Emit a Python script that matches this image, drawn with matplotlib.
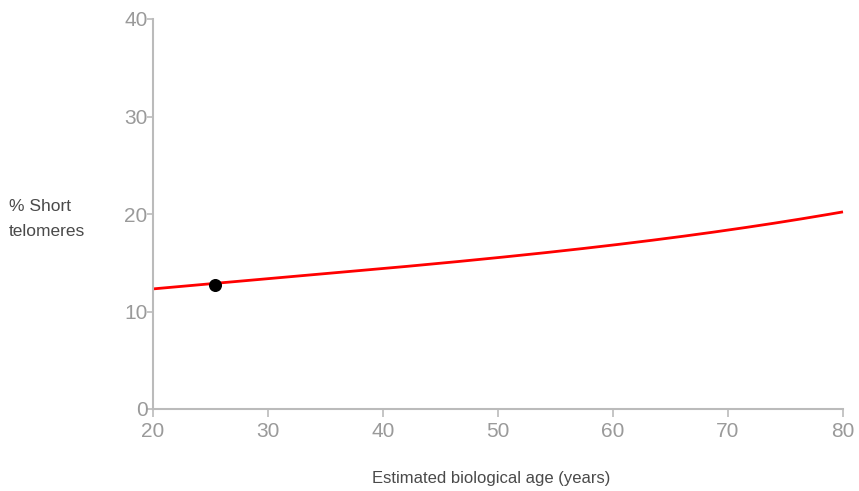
import matplotlib
matplotlib.use("Agg")
import matplotlib.pyplot as plt
import numpy as np

plt.rcParams['font.family'] = ['Liberation Sans', 'DejaVu Sans']

age = [20, 30, 40, 50, 60, 70, 80]
short_pct = [12.3, 13.4, 14.4, 15.5, 16.8, 18.4, 20.2]
point_age = [25.4]
point_pct = [12.7]

xticks = [20, 30, 40, 50, 60, 70, 80]
yticks = [0, 10, 20, 30, 40]

fig = plt.figure(figsize=(8.59, 4.91), dpi=100)
ax = fig.add_axes([153/859, 1-409/491, (843-153)/859, (409-19)/491])

# smooth line through read values
xs = np.linspace(20, 80, 200)
coef = np.polyfit(age, short_pct, 3)
ax.plot(xs, np.polyval(coef, xs), color='#ff0000', lw=2, solid_capstyle='butt', clip_on=False)
ax.scatter(point_age, point_pct, s=70, color='black', zorder=5, clip_on=False)

ax.set_xlim(20, 80)
ax.set_ylim(0, 40)
ax.set_xticks(xticks)
ax.set_yticks(yticks)
for s in ['top', 'right']:
    ax.spines[s].set_visible(False)
for s in ['left', 'bottom']:
    ax.spines[s].set_color('#bbbbbb')
    ax.spines[s].set_linewidth(1.5)
ax.tick_params(axis='both', colors='#bbbbbb', labelcolor='#9a9a9a', labelsize=15, width=1.2)
ax.tick_params(axis='x', length=6, pad=3.5)
ax.tick_params(axis='y', length=4, pad=0)

fig.text(372/859, 1-478/491, 'Estimated biological age (years)', fontsize=12, color='#4a4a4a', va='center', ha='left')
fig.text(9/859, 1-219/491, '% Short\ntelomeres', fontsize=12.5, color='#4a4a4a', va='center', ha='left', linespacing=1.85)

fig.savefig('out.png', dpi=100)
